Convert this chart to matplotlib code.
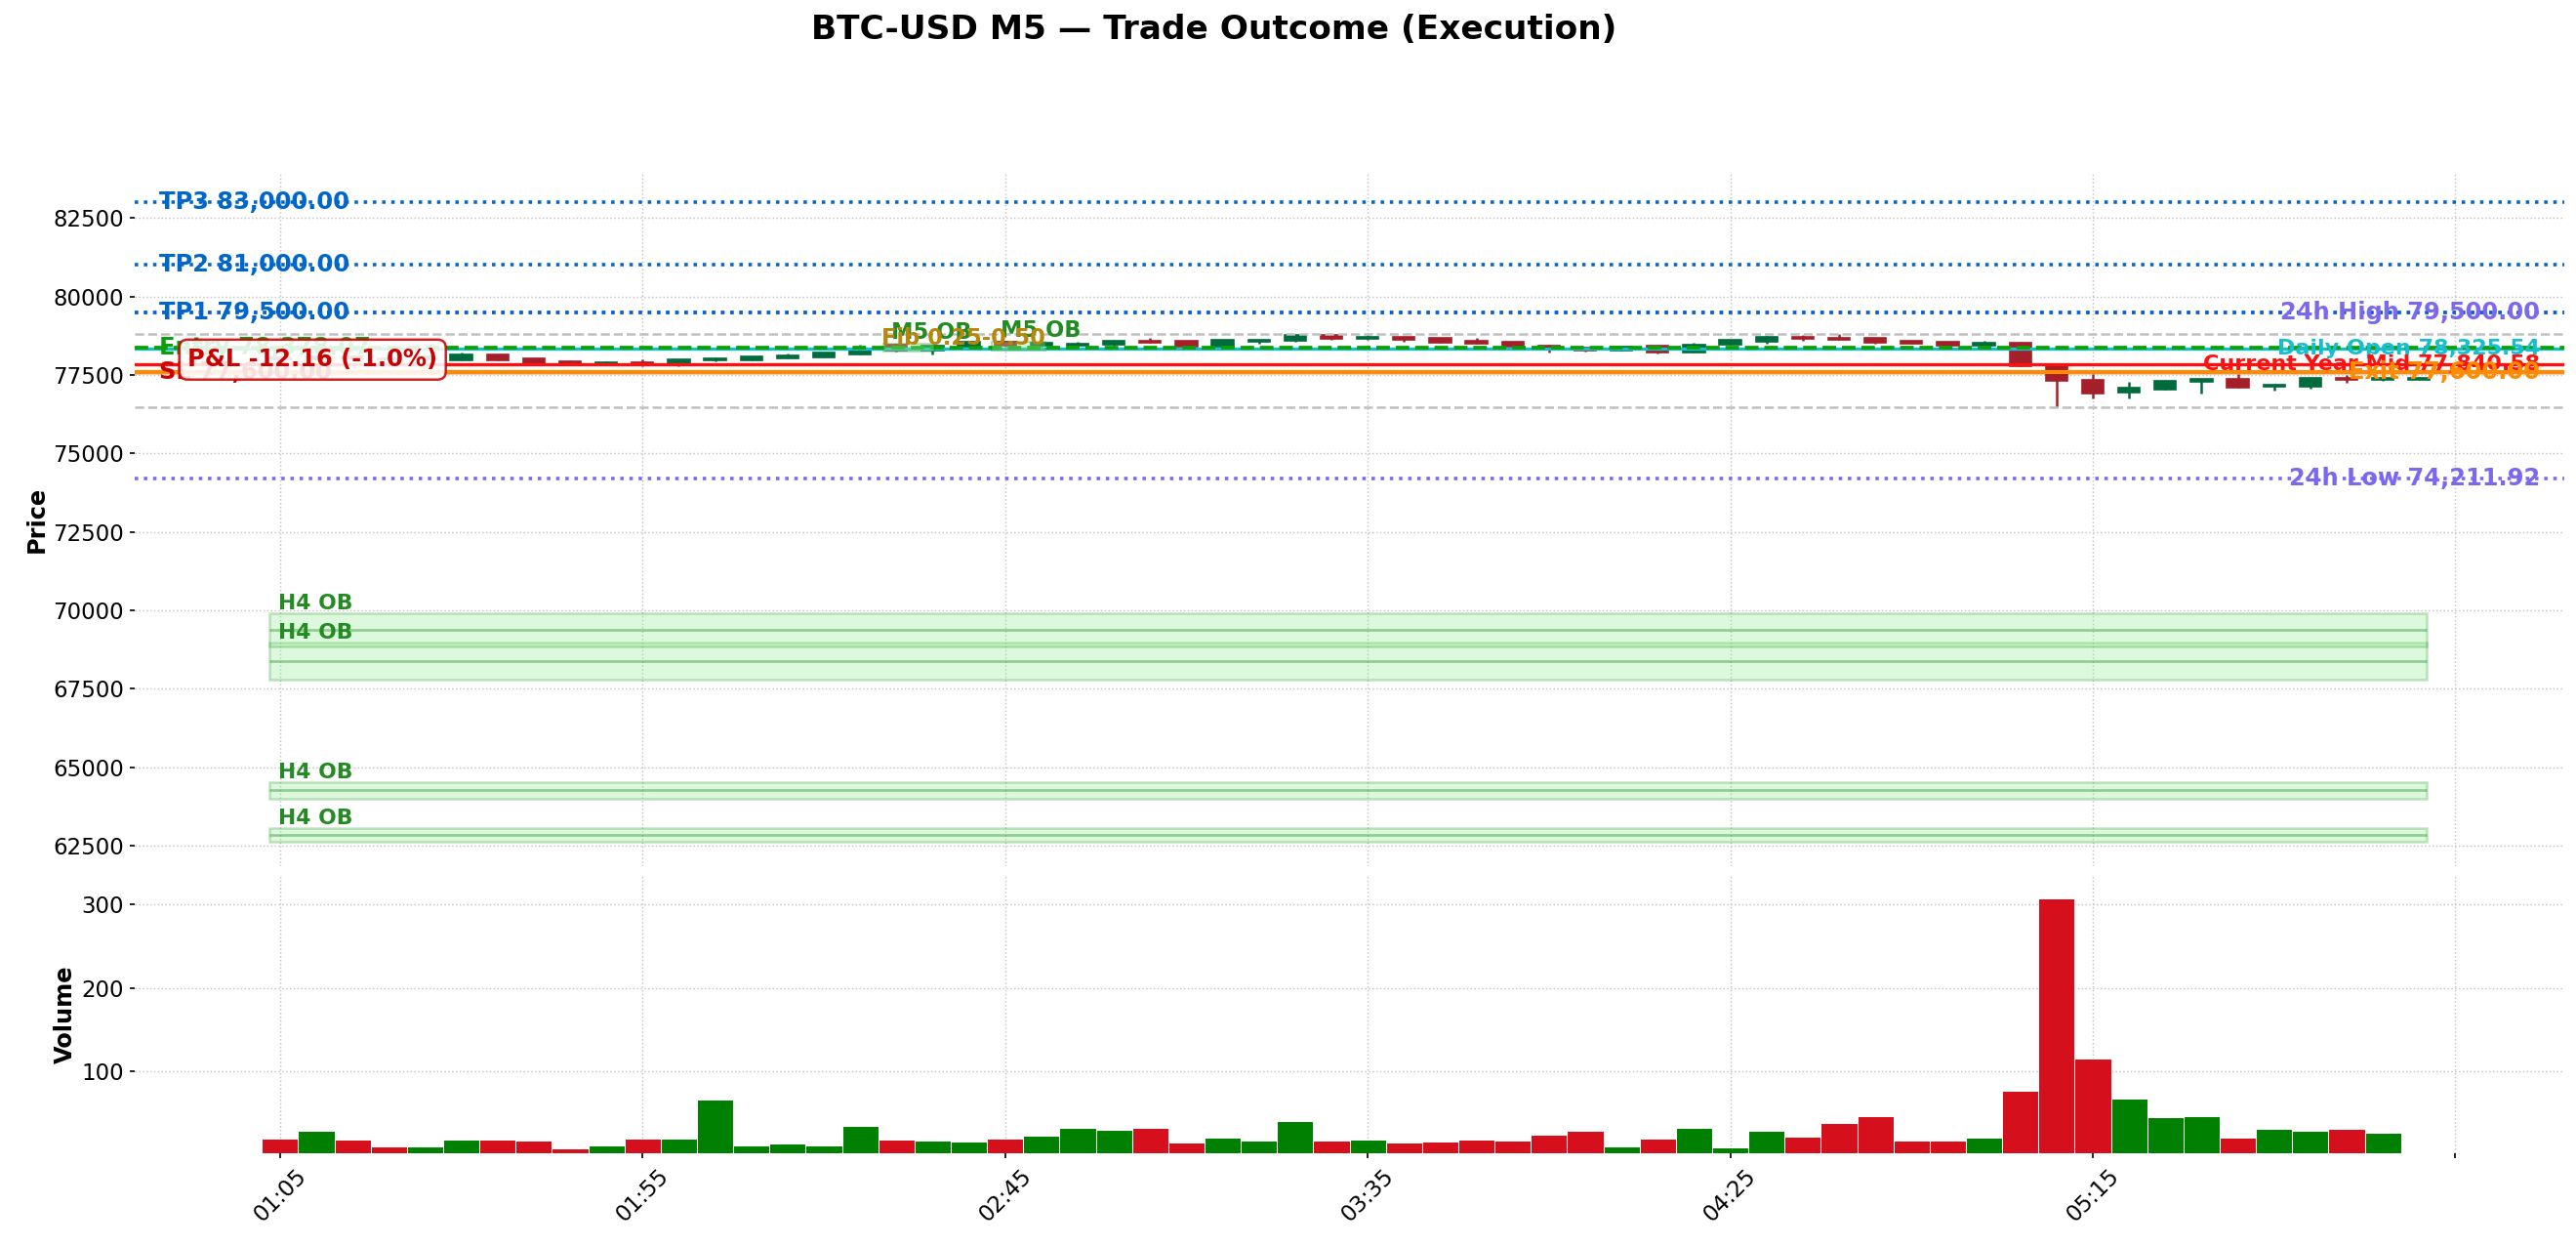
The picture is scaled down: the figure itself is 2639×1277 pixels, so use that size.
import numpy as np
import pandas as pd
import matplotlib
matplotlib.use("Agg")
import matplotlib.pyplot as plt
from matplotlib.patches import Rectangle
from matplotlib.ticker import FuncFormatter, MultipleLocator

# ------------ M5 candles ------------
opens = [78050, 77985, 78090, 78030, 77995, 77975, 78140, 78019, 77935, 77873,
         77913, 77801, 77956, 77975, 78038, 78069, 78162, 78454, 78268, 78401,
         78557, 78420, 78423, 78454, 78588, 78578, 78401, 78567, 78578, 78765,
         78640, 78713, 78671, 78588, 78547, 78443, 78360, 78287, 78423, 78225,
         78474, 78567, 78723, 78682, 78682, 78588, 78557, 78443, 78516, 77832,
         77340, 76930, 77042, 77272, 77372, 77116, 77135, 77393, 77340, 77352]
highs = [78110, 78120, 78130, 78070, 78120, 78215, 78160, 78040, 77966, 77925,
         78000, 78000, 78059, 78100, 78190, 78225, 78454, 78480, 78430, 78570,
         78580, 78560, 78557, 78620, 78692, 78600, 78620, 78630, 78775, 78816,
         78785, 78725, 78690, 78682, 78560, 78470, 78380, 78410, 78440, 78526,
         78625, 78754, 78785, 78796, 78690, 78600, 78570, 78588, 78547, 77851,
         77521, 77281, 77330, 77380, 77540, 77210, 77440, 77500, 77440, 77430]
lows = [77940, 77960, 78000, 77960, 77970, 77960, 77960, 77860, 77840, 77860,
        77790, 77790, 77945, 77965, 78030, 78060, 78150, 78250, 78162, 78390,
        78410, 78400, 78415, 78445, 78530, 78390, 78395, 78504, 78570, 78630,
        78630, 78557, 78530, 78500, 78385, 78215, 78246, 78280, 78194, 78215,
        78470, 78495, 78600, 78625, 78510, 78495, 78435, 78435, 77780, 76482,
        76740, 76760, 77030, 76917, 77095, 76986, 77060, 77260, 77320, 77340]
closes = [77985, 78090, 78030, 77995, 78080, 78140, 77975, 77873, 77851, 77913,
          77801, 77988, 78028, 78090, 78131, 78215, 78330, 78268, 78423, 78557,
          78420, 78520, 78504, 78588, 78535, 78401, 78609, 78619, 78765, 78640,
          78723, 78630, 78536, 78504, 78392, 78380, 78287, 78401, 78225, 78475,
          78619, 78713, 78640, 78630, 78536, 78504, 78443, 78526, 77790, 77303,
          76917, 77081, 77310, 77362, 77104, 77175, 77415, 77340, 77415, 77415]
volumes = [20.1, 28.7, 18.9, 10.3, 10.3, 18.9, 18.9, 17.7, 8.4, 11.9,
           20.1, 20.1, 66.9, 11.9, 13.8, 11.9, 35.3, 18.9, 17.7, 16.6,
           20.1, 23.6, 32.6, 30.6, 32.6, 15.0, 20.9, 17.7, 41.1, 17.7,
           18.9, 15.4, 16.6, 18.9, 17.7, 24.8, 29.5, 10.3, 20.1, 32.9,
           9.2, 29.5, 22.4, 38.8, 46.6, 17.7, 17.7, 21.2, 77.4, 306.6,
           116.0, 67.6, 45.4, 46.6, 21.2, 31.8, 29.5, 31.8, 27.1, 0.0]
times = list(pd.date_range("2024-01-01 01:05", periods=len(opens), freq="5min").strftime("%H:%M"))

# ------------ trade / levels ------------
entry = 78378.07
stop_loss = 77600.00
exit_price = 77600.00
take_profits = [("TP1", 79500.00), ("TP2", 81000.00), ("TP3", 83000.00)]
high_24h = 79500.00
low_24h = 74211.92
daily_open = 78325.54
year_mid = 77840.58
pnl = -12.16
pnl_pct = -1.0

# order blocks (low, high)
h4_obs = [(67790, 68975), (68850, 69900), (63995, 64535), (62635, 63070)]
# M5 order blocks (x0, x1, low, high)
m5_obs = [(16.64, 18.03, 78250, 78505), (19.64, 21.10, 78270, 78560)]
fib_label = "Fib 0.25-0.50"
fib_pos = (16.6, 78455)

UP = "#006b3c"
DOWN = "#a51f2a"
VOL_UP = "#008000"
VOL_DOWN = "#d50f1c"
TP_BLUE = "#0066cc"
PURPLE = "#7b68ee"
ENTRY_GREEN = "#0aa00a"
OB_GREEN = "#228b22"
LABEL_FS = 11.6
SMALL_FS = 10.7


def main():
    o = np.array(opens, dtype=float)
    h = np.array(highs, dtype=float)
    l = np.array(lows, dtype=float)
    c = np.array(closes, dtype=float)
    n = len(o)
    x = np.arange(n)
    up = c >= o

    fig = plt.figure(figsize=(2639 / 150, 1277 / 150), dpi=150)
    ax = fig.add_axes([0.0524, 0.3054, 0.943, 0.5560])
    axv = fig.add_axes([0.0524, 0.0752, 0.943, 0.2224], sharex=ax)

    # ----- candles -----
    col = np.where(up, UP, DOWN)
    ax.vlines(x, l, h, color=col, lw=1.2, zorder=2)
    ax.bar(x, np.abs(c - o), bottom=np.minimum(o, c), width=0.6, color=col,
           edgecolor=col, linewidth=0.8, zorder=3)

    # ----- H4 order blocks -----
    zx0, zx1 = -0.3, n - 0.8
    for lo, hi in h4_obs:
        ax.add_patch(Rectangle((zx0, lo), zx1 - zx0, hi - lo,
                               facecolor=(0.565, 0.933, 0.565, 0.3),
                               edgecolor=(0, 0.5, 0, 0.22), lw=1.2, zorder=1))
        ax.hlines((lo + hi) / 2, zx0, zx1, color="green", alpha=0.35, lw=1.3, zorder=1)
        ax.text(zx0 + 0.25, hi, "H4 OB", ha="left", va="bottom", fontsize=10.5,
                fontweight="bold", color=OB_GREEN, zorder=5)

    # ----- levels -----
    ax.axhline(high_24h, color=PURPLE, ls=":", lw=1.7, zorder=4)
    ax.axhline(low_24h, color=PURPLE, ls=":", lw=1.7, zorder=4)
    for name, lvl in take_profits:
        ax.axhline(lvl, color=TP_BLUE, ls=":", lw=1.7, zorder=4)
    ax.axhline(h.max(), color="#c0c0c0", ls="--", lw=1.2, zorder=4)
    ax.axhline(l.min(), color="#c0c0c0", ls="--", lw=1.2, zorder=4)
    ax.axhline(daily_open, color="#17becf", lw=1.6, zorder=4)
    ax.axhline(entry, color=ENTRY_GREEN, ls="--", lw=1.8, zorder=4)
    ax.axhline(year_mid, color="#ff1010", lw=1.6, zorder=4)
    ax.axhline(stop_loss, color="#cc0000", lw=1.6, zorder=4)
    ax.axhline(exit_price, color="#ff8c00", lw=2.0, zorder=4)

    # ----- M5 order blocks -----
    for x0, x1, lo, hi in m5_obs:
        ax.add_patch(Rectangle((x0, lo), x1 - x0, hi - lo,
                               facecolor=(0.565, 0.933, 0.565, 0.35),
                               edgecolor=(0, 0.5, 0, 0.25), lw=1.0, zorder=4.5))
        ax.text(x0 + 0.22, hi, "M5 OB", ha="left", va="bottom", fontsize=10.8,
                fontweight="bold", color=OB_GREEN, zorder=5)
    ax.text(fib_pos[0], fib_pos[1], fib_label, ha="left", va="baseline", fontsize=10.8,
            fontweight="bold", color="#b8860b", zorder=5)

    # ----- labels left -----
    yt = ax.get_yaxis_transform()
    for name, lvl in take_profits:
        ax.text(0.01, lvl, f"{name} {lvl:,.2f}", transform=yt, ha="left", va="center",
                fontsize=LABEL_FS, fontweight="bold", color=TP_BLUE, zorder=5)
    ax.text(0.01, entry, f"Entry {entry:,.2f}", transform=yt, ha="left", va="center",
            fontsize=LABEL_FS, fontweight="bold", color=ENTRY_GREEN, zorder=5)
    ax.text(0.01, stop_loss, f"SL {stop_loss:,.2f}", transform=yt, ha="left", va="center",
            fontsize=LABEL_FS, fontweight="bold", color="#cc0000", zorder=5)

    # ----- labels right -----
    right = [(high_24h, f"24h High {high_24h:,.2f}", PURPLE, LABEL_FS),
             (daily_open, f"Daily Open {daily_open:,.2f}", "#17becf", SMALL_FS),
             (year_mid, f"Current Year Mid {year_mid:,.2f}", "#ff1010", SMALL_FS),
             (exit_price, f"Exit {exit_price:,.2f}", "#ff8c00", LABEL_FS),
             (low_24h, f"24h Low {low_24h:,.2f}", PURPLE, LABEL_FS)]
    for lvl, txt, clr, fs in right:
        ax.text(0.99, lvl, txt, transform=yt, ha="right", va="center",
                fontsize=fs, fontweight="bold", color=clr, zorder=5)

    # P&L box
    ax.text(-2.55, (entry + exit_price) / 2, f"P&L {pnl:.2f} ({pnl_pct:.1f}%)",
            ha="left", va="center", fontsize=LABEL_FS, fontweight="bold", color="#cc0000",
            zorder=6, bbox=dict(boxstyle="round,pad=0.35", facecolor="white",
                                edgecolor="#cc0000", alpha=0.88, lw=1.2))

    # ----- volume -----
    vcol = np.where(up, VOL_UP, VOL_DOWN)
    axv.bar(x, volumes, width=1.0, color=vcol, edgecolor="white", linewidth=0.5, zorder=2)

    # ----- axes styling -----
    ax.set_xlim(-4, 63)
    ax.set_ylim(61846, 83941)
    axv.set_ylim(2.3, 334)
    ax.yaxis.set_major_locator(MultipleLocator(2500))
    ax.ticklabel_format(axis="y", style="plain", useOffset=False)
    axv.yaxis.set_major_locator(MultipleLocator(100))
    axv.set_xticks(np.arange(0, n + 1, 10))
    axv.xaxis.set_major_formatter(FuncFormatter(
        lambda v, p: times[int(v)] if 0 <= int(v) < n else ""))
    plt.setp(axv.get_xticklabels(), rotation=45)

    for a in (ax, axv):
        for s in a.spines.values():
            s.set_visible(False)
        a.set_axisbelow(True)
        a.grid(True, linestyle=":", color="#c4c4c4", lw=0.7)
        a.tick_params(axis="both", labelsize=11, length=2.5, pad=3)
    ax.tick_params(axis="x", length=0, labelbottom=False)

    ax.set_ylabel("Price", fontsize=11.5, fontweight="bold", labelpad=2)
    axv.set_ylabel("Volume", fontsize=11.5, fontweight="bold", labelpad=2)

    fig.text(0.4714, 0.9765, "BTC-USD M5 \u2014 Trade Outcome (Execution)", ha="center",
             va="center", fontsize=16.5, fontweight="bold")

    fig.savefig("out.png", dpi=150)


if __name__ == "__main__":
    main()
